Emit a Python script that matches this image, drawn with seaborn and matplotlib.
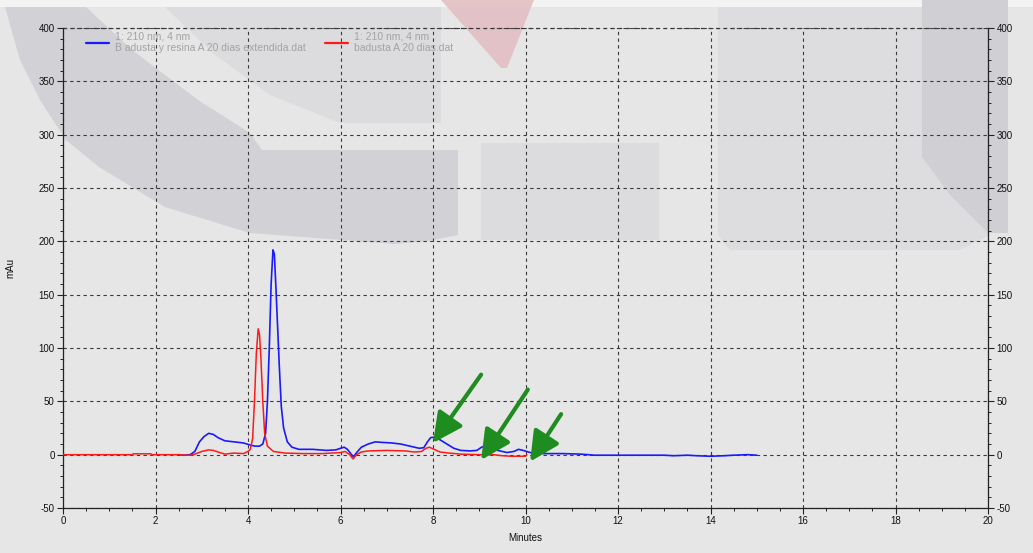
import matplotlib
matplotlib.use("Agg")
import matplotlib.pyplot as plt
from matplotlib.patches import Polygon
import seaborn as sns
import pandas as pd

# Chromatogram traces (retention time in minutes, absorbance in mAU)
blue_time = [2.50, 2.60, 2.75, 2.85, 2.95, 3.05, 3.15, 3.25, 3.35, 3.50, 3.70, 3.90,
             4.05, 4.15, 4.25, 4.32, 4.38, 4.42, 4.46, 4.50, 4.54, 4.57, 4.60, 4.64,
             4.68, 4.72, 4.77, 4.85, 4.95, 5.10, 5.40, 5.70, 5.90, 6.00, 6.08, 6.15,
             6.22, 6.28, 6.35, 6.45, 6.60, 6.75, 6.90, 7.10, 7.30, 7.50, 7.70, 7.80,
             7.88, 7.95, 8.05, 8.15, 8.30, 8.45, 8.60, 8.80, 8.95, 9.05, 9.12, 9.25,
             9.40, 9.60, 9.75, 9.85, 9.95, 10.10, 10.40, 10.80, 11.20, 11.50, 12.50,
             13.00, 13.20, 13.50, 13.70, 14.00, 14.30, 14.50, 14.80, 15.00]
blue_mau = [0.0, -0.5, 0.0, 3.0, 12.0, 17.0, 20.0, 19.0, 16.0, 13.0, 12.0, 11.0,
            9.0, 8.0, 8.0, 10.0, 20.0, 50.0, 100.0, 160.0, 192.0, 188.0, 160.0, 120.0,
            80.0, 45.0, 25.0, 12.0, 7.0, 5.0, 5.0, 4.0, 4.5, 6.0, 7.0, 5.0,
            1.0, -2.0, 2.0, 7.0, 10.0, 12.0, 11.5, 11.0, 10.0, 8.0, 6.0, 6.5,
            12.0, 16.0, 16.5, 14.0, 10.0, 6.0, 4.0, 3.5, 4.0, 7.0, 8.0, 6.0,
            4.0, 2.0, 3.0, 5.0, 4.0, 2.0, 1.0, 1.0, 0.5, -0.5, -0.5,
            -0.5, -1.0, -0.5, -1.0, -1.5, -1.0, -0.5, 0.0, -0.5]

red_time = [0.00, 1.50, 1.52, 1.90, 1.92, 2.50, 2.65, 2.75, 2.85, 3.00, 3.15, 3.25,
            3.35, 3.50, 3.70, 3.90, 4.00, 4.05, 4.10, 4.14, 4.18, 4.22, 4.25, 4.28,
            4.32, 4.36, 4.42, 4.55, 4.80, 5.20, 5.60, 6.00, 6.10, 6.20, 6.27, 6.35,
            6.45, 6.60, 7.00, 7.40, 7.60, 7.75, 7.85, 7.92, 8.00, 8.15, 8.35, 8.60,
            9.00, 9.30, 9.50, 9.70, 10.00, 10.03]
red_mau = [0.0, 0.0, 0.8, 0.8, 0.0, 0.0, -0.5, -0.5, 0.5, 3.0, 4.5, 4.0,
           2.5, 0.5, 1.5, 1.0, 3.0, 5.0, 15.0, 50.0, 95.0, 118.0, 112.0, 90.0,
           50.0, 20.0, 8.0, 3.0, 1.5, 1.0, 1.0, 2.0, 3.0, 0.0, -4.0, 0.0,
           2.5, 3.5, 4.0, 3.5, 2.5, 3.0, 6.0, 7.0, 5.5, 2.5, 1.5, 0.5,
           0.0, 0.0, -1.0, -1.5, -1.5, 0.0]

blue_label = "1: 210 nm, 4 nm\nB adusta y resina A 20 dias extendida.dat"
red_label = "1: 210 nm, 4 nm\nbadusta A 20 dias.dat"

# Arrows pointing at the minor peaks: (tail time, tail mAU, head time, head mAU)
arrow_tail_t = [9.04, 10.05, 10.77]
arrow_tail_y = [75, 61, 38]
arrow_head_t = [8.00, 9.04, 10.10]
arrow_head_y = [11, -5, -6.5]

x_ticks = list(range(0, 21, 2))
y_ticks = list(range(-50, 401, 50))

sns.set_theme(style="white")
plt.rcParams["font.family"] = ["Liberation Sans", "DejaVu Sans"]
plt.rcParams["axes.unicode_minus"] = False

W, H = 1033, 553
BG = "#e6e6e6"
fig = plt.figure(figsize=(W / 100, H / 100), dpi=100, facecolor=BG)


def backdrop(verts, color, alpha=1.0):
    """Add a flat background shape given in pixel positions from the top-left."""
    pts = [(x / W, 1 - y / H) for x, y in verts]
    fig.patches.append(Polygon(pts, closed=True, transform=fig.transFigure,
                               facecolor=color, edgecolor="none", alpha=alpha,
                               zorder=-5))


# page backdrop: pale top strip and a soft grey logo swoosh behind the plot
backdrop([(0, 0), (W, 0), (W, 7), (0, 7)], "#f3f3f3")
backdrop([(165, 7), (441, 7), (441, 123), (340, 123), (270, 95), (215, 55)],
         "#dcdcde")
backdrop([(5, 7), (86, 7), (132, 50), (198, 100), (250, 133), (262, 150),
          (458, 150), (458, 235), (428, 241), (395, 244), (250, 233), (165, 207),
          (99, 167), (66, 140), (40, 100), (20, 60)], "#d1d1d6")
backdrop([(481, 143), (659, 143), (659, 240), (481, 240)], "#dcdcdf")
backdrop([(718, 7), (922, 7), (922, 157), (950, 195), (990, 235), (960, 250),
          (730, 250), (718, 235)], "#dddde0")
backdrop([(922, 0), (1008, 0), (1008, 233), (988, 233), (950, 195), (922, 157)],
         "#cfcfd4")
backdrop([(441, 0), (534, 0), (507, 68), (501, 68)], "#e2b9be", 0.8)

ax = fig.add_axes([63 / W, 1 - 508 / H, 925 / W, 480 / H])
ax.set_facecolor("none")

df_blue = pd.DataFrame({"t": blue_time, "mau": blue_mau})
df_red = pd.DataFrame({"t": red_time, "mau": red_mau})
sns.lineplot(data=df_blue, x="t", y="mau", ax=ax, color="#1a1aff", lw=1.2,
             label=blue_label, estimator=None, sort=False, zorder=3)
sns.lineplot(data=df_red, x="t", y="mau", ax=ax, color="#ff1a1a", lw=1.1,
             label=red_label, estimator=None, sort=False, zorder=4)

for tt, ty, ht, hy in zip(arrow_tail_t, arrow_tail_y, arrow_head_t, arrow_head_y):
    ax.annotate("", xy=(ht, hy), xytext=(tt, ty),
                arrowprops=dict(arrowstyle="-|>,head_length=0.9,head_width=0.45",
                                color="#1f8c1f", lw=3, mutation_scale=20,
                                shrinkA=0, shrinkB=0), zorder=6)

ax.set_xlim(0, 20)
ax.set_ylim(-50, 400)
ax.set_xticks(x_ticks)
ax.set_yticks(y_ticks)
ax.set_xticks([v / 2 for v in range(0, 41)], minor=True)
ax.set_yticks(list(range(-50, 401, 10)), minor=True)
ax.grid(True, which="major", color="#3a3a3a", linestyle=(0, (3, 3)), lw=0.8)
ax.axhline(400, color="#3a3a3a", linestyle=(0, (3, 3)), lw=0.9, clip_on=False)

for side in ["left", "right", "bottom"]:
    ax.spines[side].set_visible(True)
    ax.spines[side].set_color("#222222")
    ax.spines[side].set_linewidth(0.9)
ax.spines["top"].set_visible(False)

ax.tick_params(axis="both", which="major", direction="out", length=4, width=0.8,
               color="#222222", labelsize=7, labelcolor="#111111", pad=2)
ax.tick_params(axis="both", which="minor", direction="out", length=2.5, width=0.7,
               color="#222222")
ax.tick_params(axis="y", which="both", left=True, right=True, labelleft=True,
               labelright=True)
ax.tick_params(axis="x", which="both", bottom=True, top=False)

ax.set_xlabel("Minutes", fontsize=7, color="#111111", labelpad=5)
ax.set_ylabel("mAu", fontsize=7, color="#111111")
ax.yaxis.set_label_coords(-48 / 925, 0.5)

leg = ax.legend(loc="upper left", bbox_to_anchor=(0.015, 1.012), ncol=2,
                frameon=False, fontsize=7.5, handlelength=2.2, handletextpad=0.6,
                columnspacing=1.8)
for txt in leg.get_texts():
    txt.set_color("#a3a3a3")
for line in leg.get_lines():
    line.set_linewidth(1.6)

fig.savefig("out.png", dpi=100, facecolor=BG)
